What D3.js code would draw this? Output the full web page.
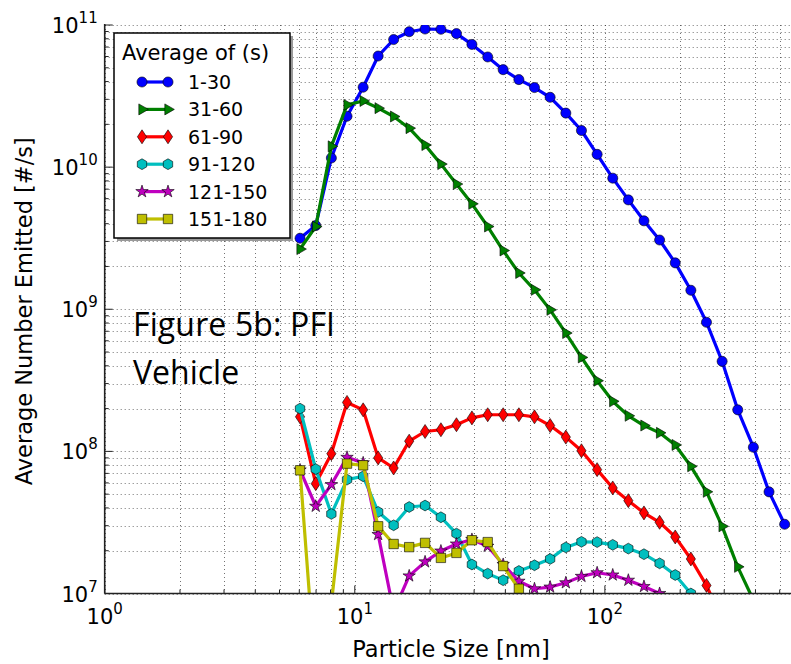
<!DOCTYPE html>
<html>
<head>
<meta charset="utf-8">
<script src="https://cdnjs.cloudflare.com/ajax/libs/d3/7.8.5/d3.min.js"></script>
<style>
  html, body { margin: 0; padding: 0; background: #fff; }
  svg { display: block; }
  .tick-label, .axis-label, .legend-text { font-family: 'DejaVu Sans', sans-serif; fill: #000; }
  .note { font-family: 'Open Sans', sans-serif; fill: #000; }
</style>
</head>
<body>
<svg id="chart" width="791" height="664"></svg>
<script>
// Particle size bins (EEPS channel midpoints, nm).
const sizes = [ 6.04, 6.98, 8.06, 9.31, 10.8, 12.4, 14.3, 16.5, 19.1, 22.1, 25.5, 29.4, 34.0, 39.2, 45.3, 52.3,
                60.4, 69.8, 80.6, 93.1, 107.5, 124.1, 143.3, 165.5, 191.1, 220.7, 254.8, 294.3, 339.8, 392.4, 453.2, 523.3 ];

// Average number emitted [#/s] for each time window. null = not plotted.
const avg1to30 = [ 3.16e9, 3.88e9, 1.16e10, 2.28e10, 3.65e10, 6.05e10, 7.9e10, 8.97e10, 9.37e10, 9.33e10, 8.7e10, 7.3e10,
                   5.96e10, 4.85e10, 4.13e10, 3.63e10, 3.1e10, 2.4e10, 1.81e10, 1.23e10, 8.36e9, 5.88e9, 4.19e9, 3.07e9,
                   2.12e9, 1.36e9, 8.1e8, 4.3e8, 1.96e8, 1.07e8, 5.19e7, 3.07e7 ];
const avg31to60 = [ 2.65e9, 3.82e9, 1.4e10, 2.74e10, 2.92e10, 2.6e10, 2.27e10, 1.88e10, 1.43e10, 1.05e10, 7.6e9, 5.52e9,
                    3.82e9, 2.59e9, 1.8e9, 1.37e9, 9.9e8, 6.8e8, 4.58e8, 3.14e8, 2.25e8, 1.78e8, 1.52e8, 1.35e8,
                    1.11e8, 7.85e7, 5.19e7, 2.97e7, 1.54e7, 9.0e6, null, null ];
const avg61to90 = [ 1.75e8, 5.93e7, 9.64e7, 2.21e8, 1.96e8, 9.0e7, 7.64e7, 1.18e8, 1.38e8, 1.42e8, 1.54e8, 1.72e8,
                    1.81e8, 1.81e8, 1.81e8, 1.75e8, 1.52e8, 1.26e8, 1.01e8, 7.44e7, 5.53e7, 4.5e7, 3.69e7, 3.17e7,
                    2.5e7, 1.75e7, 1.14e7, 6.5e6, null, null, null, null ];
const avg91to120 = [ 2.0e8, 7.5e7, 3.63e7, 6.33e7, 6.68e7, 3.75e7, 3.02e7, 4.06e7, 4.16e7, 3.44e7, 2.64e7, 1.6e7,
                     1.38e7, 1.24e7, 1.44e7, 1.58e7, 1.75e7, 2.11e7, 2.31e7, 2.3e7, 2.2e7, 2.07e7, 1.89e7, 1.63e7,
                     1.35e7, 1.0e7, null, null, null, null, null, null ];
const avg121to150 = [ 7.4e7, 4.11e7, 5.84e7, 9.08e7, 8.3e7, 2.6e7, 7.5e6, 1.33e7, 1.67e7, 1.99e7, 2.23e7, 2.4e7,
                      2.15e7, 1.6e7, 1.22e7, 1.08e7, 1.11e7, 1.19e7, 1.32e7, 1.4e7, 1.35e7, 1.24e7, 1.12e7, 1.0e7,
                      null, null, null, null, null, null, null, null ];
const avg151to180 = [ 7.36e7, 2.5e6, 8.5e6, 8.2e7, 7.98e7, 2.97e7, 2.23e7, 2.12e7, 2.27e7, 1.78e7, 1.93e7, 2.37e7,
                      2.3e7, 1.56e7, 1.08e7, null, null, null, null, null, null, null, null, null,
                      null, null, null, null, null, null, null, null ];

const seriesNames  = [ '1-30', '31-60', '61-90', '91-120', '121-150', '151-180' ];
const seriesValues = [ avg1to30, avg31to60, avg61to90, avg91to120, avg121to150, avg151to180 ];

// Axis ticks.
const xDomain      = [ 1, 560 ];
const yDomain      = [ 1e7, 1e11 ];
const xMajorTicks  = [ 1, 10, 100 ];
const yMajorTicks  = [ 1e7, 1e8, 1e9, 1e10, 1e11 ];

// Marker shapes (matplotlib classic style: o > d h * s).
const markerPath = {
  circle  : () => d3.symbol( d3.symbolCircle, 80 )(),
  triRight: () => {
    const s = 11, h = s * Math.sqrt( 3 ) / 2;
    return `M${ h * 2 / 3 },0L${ -h / 3 },${ -s / 2 }L${ -h / 3 },${ s / 2 }Z`;
  },
  diamond : () => 'M0,-7L4.6,0L0,7L-4.6,0Z',
  hexagon : () => {
    const r = 5.4;
    return d3.range( 6 ).map( i => {
      const a = Math.PI / 3 * i - Math.PI / 2;
      return `${ i ? 'L' : 'M' }${ r * Math.cos( a ) },${ r * Math.sin( a ) }`;
    } ).join( '' ) + 'Z';
  },
  star    : () => d3.symbol( d3.symbolStar, 48 )(),
  square  : () => 'M-4.7,-4.7H4.7V4.7H-4.7Z'
};
const seriesStyle = [
  { color: '#0000ff', marker: 'circle'   },
  { color: '#008000', marker: 'triRight' },
  { color: '#ff0000', marker: 'diamond'  },
  { color: '#00bfbf', marker: 'hexagon'  },
  { color: '#bf00bf', marker: 'star'     },
  { color: '#bfbf00', marker: 'square'   }
];

class LogChart {

  constructor ( ) {
    this.width  = 791;
    this.height = 664;
    this.plot   = { left: 104.7, top: 25, right: 792, bottom: 593.5 };
    this.svg    = d3.select( '#chart' );
  }

  setScales ( ) {
    this.x = d3.scaleLog( ).domain( xDomain ).range( [ this.plot.left, this.plot.right ] );
    this.y = d3.scaleLog( ).domain( yDomain ).range( [ this.plot.bottom, this.plot.top ] );
    return this;
  }

  minorTicks ( domain ) {
    const out = [];
    for ( let e = Math.floor( Math.log10( domain[ 0 ] ) ); e <= Math.ceil( Math.log10( domain[ 1 ] ) ); e++ ) {
      for ( let m = 2; m <= 9; m++ ) {
        const v = m * Math.pow( 10, e );
        if ( v > domain[ 0 ] && v < domain[ 1 ] ) out.push( v );
      }
    }
    return out;
  }

  drawGrid ( ) {
    const g = this.svg.append( 'g' ).attr( 'class', 'grid' )
      .attr( 'stroke', '#000' ).attr( 'stroke-opacity', 0.55 )
      .attr( 'stroke-width', 1 ).attr( 'stroke-dasharray', '1,3' );
    const xs = xMajorTicks.concat( this.minorTicks( xDomain ) );
    const ys = yMajorTicks.concat( this.minorTicks( yDomain ) );
    g.selectAll( '.gx' ).data( xs ).enter( ).append( 'line' )
      .attr( 'x1', d => Math.round( this.x( d ) ) + 0.5 ).attr( 'x2', d => Math.round( this.x( d ) ) + 0.5 )
      .attr( 'y1', this.plot.top ).attr( 'y2', this.plot.bottom );
    g.selectAll( '.gy' ).data( ys ).enter( ).append( 'line' )
      .attr( 'y1', d => Math.round( this.y( d ) ) + 0.5 ).attr( 'y2', d => Math.round( this.y( d ) ) + 0.5 )
      .attr( 'x1', this.plot.left ).attr( 'x2', this.plot.right );
    return this;
  }

  drawSeries ( ) {
    this.svg.append( 'clipPath' ).attr( 'id', 'plot-clip' ).append( 'rect' )
      .attr( 'x', this.plot.left ).attr( 'y', this.plot.top )
      .attr( 'width', this.plot.right - this.plot.left ).attr( 'height', this.plot.bottom - this.plot.top );
    const area = this.svg.append( 'g' ).attr( 'clip-path', 'url(#plot-clip)' );
    const line = d3.line( )
      .defined( d => d.v !== null )
      .x( d => this.x( d.s ) )
      .y( d => this.y( d.v ) );

    seriesValues.forEach( ( values, i ) => {
      const style = seriesStyle[ i ];
      const pts   = values.map( ( v, k ) => ( { s: sizes[ k ], v: v } ) );
      const g     = area.append( 'g' ).attr( 'class', 'series' );
      g.append( 'path' ).datum( pts )
        .attr( 'd', line )
        .attr( 'fill', 'none' )
        .attr( 'stroke', style.color )
        .attr( 'stroke-width', 3.2 )
        .attr( 'stroke-linejoin', 'round' );
      g.selectAll( 'path.mk' ).data( pts.filter( d => d.v !== null ) ).enter( ).append( 'path' )
        .attr( 'class', 'mk' )
        .attr( 'd', markerPath[ style.marker ]( ) )
        .attr( 'transform', d => `translate(${ this.x( d.s ) },${ this.y( d.v ) })` )
        .attr( 'fill', style.color )
        .attr( 'stroke', '#000' )
        .attr( 'stroke-width', 0.6 );
    } );
    return this;
  }

  drawAxes ( ) {
    const g = this.svg.append( 'g' ).attr( 'class', 'axes' ).attr( 'stroke', '#222' );
    // Spines.
    g.append( 'line' ).attr( 'x1', this.plot.left ).attr( 'x2', this.plot.left )
      .attr( 'y1', this.plot.top - 1 ).attr( 'y2', this.plot.bottom ).attr( 'stroke-width', 1.6 );
    g.append( 'line' ).attr( 'x1', this.plot.left ).attr( 'x2', this.plot.right )
      .attr( 'y1', this.plot.bottom ).attr( 'y2', this.plot.bottom ).attr( 'stroke-width', 1.6 );

    // Inward ticks.
    const ticks = [ ...xMajorTicks.map( d => ( { d, len: 8 } ) ),
                    ...this.minorTicks( xDomain ).map( d => ( { d, len: 4 } ) ) ];
    g.selectAll( '.tx' ).data( ticks ).enter( ).append( 'line' )
      .attr( 'x1', t => this.x( t.d ) ).attr( 'x2', t => this.x( t.d ) )
      .attr( 'y1', this.plot.bottom ).attr( 'y2', t => this.plot.bottom - t.len ).attr( 'stroke-width', 1 );
    const yticks = [ ...yMajorTicks.map( d => ( { d, len: 8 } ) ),
                     ...this.minorTicks( yDomain ).map( d => ( { d, len: 4 } ) ) ];
    g.selectAll( '.ty' ).data( yticks ).enter( ).append( 'line' )
      .attr( 'y1', t => this.y( t.d ) ).attr( 'y2', t => this.y( t.d ) )
      .attr( 'x1', this.plot.left ).attr( 'x2', t => this.plot.left + t.len ).attr( 'stroke-width', 1 );

    // Tick labels as 10^n.
    const label = ( sel ) => {
      sel.append( 'tspan' ).text( '10' );
      sel.append( 'tspan' ).attr( 'dy', -10 ).attr( 'font-size', 15 )
        .text( d => Math.round( Math.log10( d ) ) );
    };
    this.svg.selectAll( '.xl' ).data( xMajorTicks ).enter( ).append( 'text' )
      .attr( 'class', 'tick-label' ).attr( 'font-size', 21 )
      .attr( 'text-anchor', 'middle' )
      .attr( 'x', d => this.x( d ) ).attr( 'y', this.plot.bottom + 30.5 )
      .call( label );
    this.svg.selectAll( '.yl' ).data( yMajorTicks ).enter( ).append( 'text' )
      .attr( 'class', 'tick-label' ).attr( 'font-size', 21 )
      .attr( 'text-anchor', 'end' )
      .attr( 'x', this.plot.left - 7 ).attr( 'y', d => this.y( d ) + 8 )
      .call( label );

    // Axis titles.
    this.svg.append( 'text' ).attr( 'class', 'axis-label' ).attr( 'font-size', 22.5 )
      .attr( 'text-anchor', 'middle' ).attr( 'x', 451 ).attr( 'y', 657 )
      .text( 'Particle Size [nm]' );
    this.svg.append( 'text' ).attr( 'class', 'axis-label' ).attr( 'font-size', 22.5 )
      .attr( 'text-anchor', 'middle' )
      .attr( 'transform', `translate(32,${ ( this.plot.top + this.plot.bottom ) / 2 + 2 }) rotate(-90)` )
      .text( 'Average Number Emitted [#/s]' );
    return this;
  }

  drawNote ( ) {
    const t = this.svg.append( 'text' ).attr( 'class', 'note' ).attr( 'font-size', 32 );
    t.append( 'tspan' ).attr( 'x', 133 ).attr( 'y', 336 ).attr( 'textLength', 202 ).text( 'Figure 5b: PFI' );
    t.append( 'tspan' ).attr( 'x', 133 ).attr( 'y', 384 ).text( 'Vehicle' );
    return this;
  }

  drawLegend ( ) {
    const box = { x: 114, y: 33, w: 176, h: 205 };
    const g   = this.svg.append( 'g' ).attr( 'class', 'legend' );
    g.append( 'rect' ).attr( 'x', box.x + 3 ).attr( 'y', box.y + 3 )
      .attr( 'width', box.w ).attr( 'height', box.h ).attr( 'fill', '#999' );
    g.append( 'rect' ).attr( 'x', box.x ).attr( 'y', box.y )
      .attr( 'width', box.w ).attr( 'height', box.h )
      .attr( 'fill', '#fff' ).attr( 'stroke', '#000' ).attr( 'stroke-width', 1.5 );
    g.append( 'text' ).attr( 'class', 'legend-text' ).attr( 'font-size', 21 )
      .attr( 'x', 122 ).attr( 'y', 60 ).text( 'Average of (s)' );

    const rows = g.selectAll( '.row' ).data( seriesNames ).enter( ).append( 'g' )
      .attr( 'transform', ( d, i ) => `translate(0,${ 82 + i * 27.4 })` );
    rows.append( 'line' ).attr( 'x1', 142 ).attr( 'x2', 168 ).attr( 'y1', 0 ).attr( 'y2', 0 )
      .attr( 'stroke', ( d, i ) => seriesStyle[ i ].color ).attr( 'stroke-width', 3.2 );
    [ 142, 168 ].forEach( mx => {
      rows.append( 'path' )
        .attr( 'd', ( d, i ) => markerPath[ seriesStyle[ i ].marker ]( ) )
        .attr( 'transform', `translate(${ mx },0)` )
        .attr( 'fill', ( d, i ) => seriesStyle[ i ].color )
        .attr( 'stroke', '#000' ).attr( 'stroke-width', 0.6 );
    } );
    rows.append( 'text' ).attr( 'class', 'legend-text' ).attr( 'font-size', 19 )
      .attr( 'x', 188 ).attr( 'y', 7 ).text( d => d );
    return this;
  }
}

new LogChart( ).setScales( ).drawGrid( ).drawSeries( ).drawAxes( ).drawNote( ).drawLegend( );
</script>
</body>
</html>
